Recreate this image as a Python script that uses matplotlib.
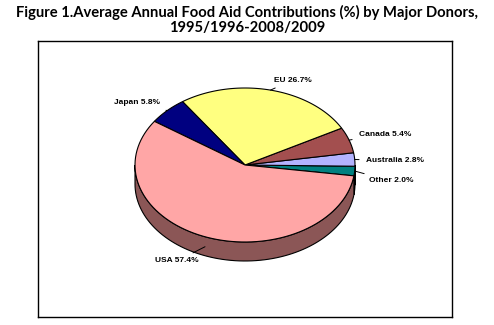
import numpy as np
import matplotlib.pyplot as plt
from matplotlib.patches import Polygon

# data (order: counter-clockwise starting just below 3 o'clock)
donors = ['Other', 'Australia', 'Canada', 'EU', 'Japan', 'USA']
shares = [2.0, 2.8, 5.4, 26.7, 5.8, 57.4]
colors = ['#008080', '#B3B3FF', '#A34F4F', '#FFFF80', '#000080', '#FFA6A6']
side_colors = ['#004848', '#6E6E9E', '#6A3232', '#9E9E4E', '#000050', '#8B5656']

title = 'Figure 1.Average Annual Food Aid Contributions (%) by Major Donors,\n1995/1996-2008/2009'

# pie geometry in pixel-like units
rx, ry, depth = 110, 77, 19
start = -8.1

fig = plt.figure(figsize=(4.94, 3.25), dpi=100)
fig.text(0.5, 0.985, title, ha='center', va='top', fontsize=10.6, fontweight='bold',
         family='Lato', linespacing=1.12)

ax = fig.add_axes([38/494, 1-317/325, 414/494, 276/325])
ax.set_xlim(-207, 207)
ax.set_ylim(-152, 124)
ax.set_xticks([])
ax.set_yticks([])
for s in ax.spines.values():
    s.set_linewidth(1.0)

fracs = np.array(shares) / np.sum(shares)
edges = start + 360 * np.concatenate([[0], np.cumsum(fracs)])


def rim(t0, t1, n=80):
    t = np.radians(np.linspace(t0, t1, n))
    return rx * np.cos(t), ry * np.sin(t)


# side walls (front half only: 180..360 degrees)
for i in range(len(shares)):
    a0, a1 = edges[i], edges[i + 1]
    for off in (-360, 0, 360):
        lo = max(a0 + off, 180)
        hi = min(a1 + off, 360)
        if hi > lo:
            x, y = rim(lo, hi)
            pts = np.vstack([np.column_stack([x, y]),
                             np.column_stack([x[::-1], y[::-1] - depth])])
            ax.add_patch(Polygon(pts, closed=True, facecolor=side_colors[i],
                                 edgecolor='black', linewidth=0.8))

# top wedges
for i in range(len(shares)):
    x, y = rim(edges[i], edges[i + 1])
    pts = np.vstack([[0, 0], np.column_stack([x, y])])
    ax.add_patch(Polygon(pts, closed=True, facecolor=colors[i],
                         edgecolor='black', linewidth=0.8))

# labels: (drop onto side, text position, alignment)
label_pos = {
    'Other': (0, (124, -16), 'left'),
    'Australia': (0, (121, 4), 'left'),
    'Canada': (0, (114, 31), 'left'),
    'EU': (0, (48, 85), 'center'),
    'Japan': (0, (-85, 62), 'right'),
    'USA': (10, (-68, -96), 'center'),
}
for i, name in enumerate(donors):
    mid = np.radians((edges[i] + edges[i + 1]) / 2)
    drop, (tx, ty), ha = label_pos[name]
    px, py = rx * np.cos(mid), ry * np.sin(mid) - drop
    ax.annotate(f'{name} {shares[i]:.1f}%', xy=(px, py), xytext=(tx, ty),
                ha=ha, va='center', fontsize=6.0, fontweight='bold',
                family='Liberation Sans',
                arrowprops=dict(arrowstyle='-', lw=0.7, color='black',
                                shrinkA=3, shrinkB=0))

fig.savefig('out.png', dpi=100)
